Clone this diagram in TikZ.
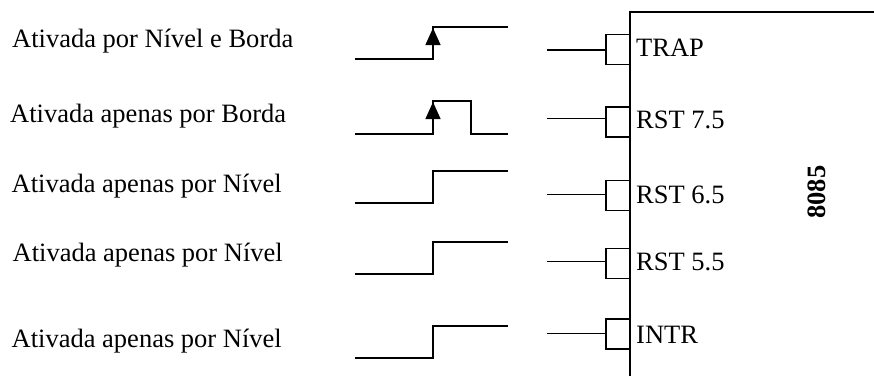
\documentclass[tikz,border=0pt]{standalone}
\usepackage{fontspec}
\setmainfont{Liberation Serif}
\usetikzlibrary{arrows.meta,positioning}

\begin{document}
\begin{tikzpicture}[x=1pt,y=-1pt,
    txt/.style={anchor=base west,inner sep=0,font=\fontsize{26.5}{30}\selectfont},
    pinbox/.style={draw,line width=1.4pt,minimum width=24pt,minimum height=30pt,inner sep=0},
    wave/.style={line width=2.3pt},
    edgeup/.style={-{Triangle[length=17pt,width=15pt]},line width=1.4pt}]
\useasboundingbox (0,0) rectangle (874,376);

% labels
\node[txt] (l1) at (12,47) {Ativada por Nível e Borda};
\node[txt] (l2) at (10,122) {Ativada apenas por Borda};
\node[txt] (l3) at (11.5,192.7) {Ativada apenas por Nível};
\node[txt] (l4) at (12.5,261) {Ativada apenas por Nível};
\node[txt] (l5) at (11.5,347.7) {Ativada apenas por Nível};

% signals
\draw[wave] (355,59) -- (433,59) -- (433,27) -- (508,27);
\draw[edgeup] (433,59) -- (433,28);
\draw[wave] (355,134) -- (433,134) -- (433,101) -- (471,101) -- (471,134) -- (508,134);
\draw[edgeup] (433,134) -- (433,102);
\foreach \lo/\hi in {202.7/171, 274/241.7, 358.3/325.7}
    \draw[wave] (355,\lo) -- (433,\lo) -- (433,\hi) -- (508,\hi);

% 8085
\draw[line width=1.5pt] (874,12) -- (630,12) -- (630,376);
\node[rotate=90,inner sep=0,font=\fontsize{26.5}{30}\selectfont\bfseries] (cpu) at (817,192) {8085};

% pins
\foreach \n/\y/\w/\b/\t in {trap/49.5/50/56.7/TRAP, r75/121.8/118.3/128.3/RST 7.5,
        r65/195.5/194.3/203.3/RST 6.5, r55/263.5/261.7/270/RST 5.5, intr/334/333.3/343.3/INTR} {
    \node[pinbox] (\n) at (618,\y) {};
    \coordinate (\n in) at (547,\w);
    \draw[line width=1.4pt] (\n in) -- (\n in -| \n.west);
    \node[txt] (\n txt) at (636,\b) {\t};
}
\end{tikzpicture}
\end{document}
